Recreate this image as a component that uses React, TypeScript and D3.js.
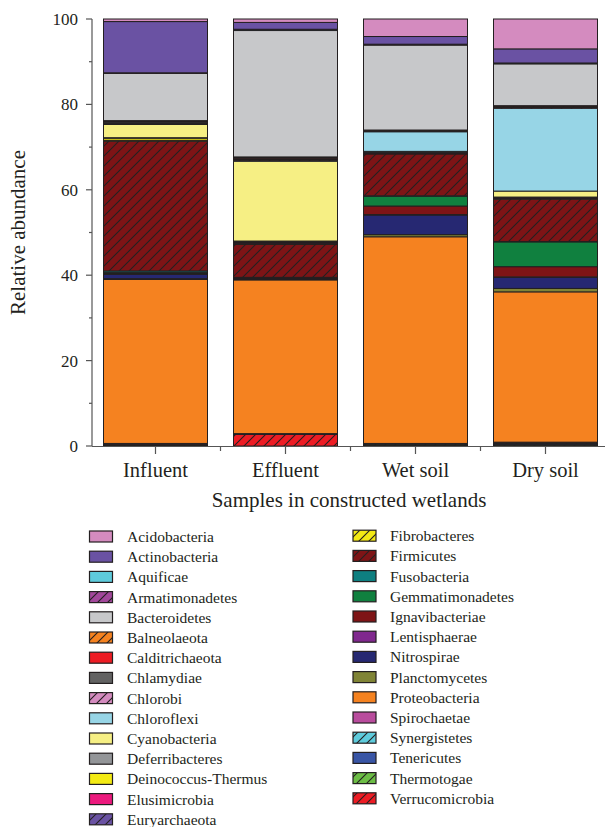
import React from "react";
import * as d3 from "d3";

const samples = ["Influent", "Effluent", "Wet soil", "Dry soil"];

// Phyla in legend order (top of stack = first)
const phyla = [
  "Acidobacteria", "Actinobacteria", "Aquificae", "Armatimonadetes", "Bacteroidetes",
  "Balneolaeota", "Calditrichaeota", "Chlamydiae", "Chlorobi", "Chloroflexi",
  "Cyanobacteria", "Deferribacteres", "Deinococcus-Thermus", "Elusimicrobia", "Euryarchaeota",
  "Fibrobacteres", "Firmicutes", "Fusobacteria", "Gemmatimonadetes", "Ignavibacteriae",
  "Lentisphaerae", "Nitrospirae", "Planctomycetes", "Proteobacteria", "Spirochaetae",
  "Synergistetes", "Tenericutes", "Thermotogae", "Verrucomicrobia",
];

const colors = [
  "#d48bbf", "#6a52a3", "#5ecbdc", "#a2479b", "#c7c8ca",
  "#f58220", "#ed1c24", "#626262", "#d48bbf", "#97d5e6",
  "#f6ef84", "#939598", "#f3ea14", "#ec1a7e", "#6a52a3",
  "#f3ea14", "#7e1416", "#0e7f80", "#10803f", "#7e1416",
  "#80288e", "#262872", "#808436", "#f58220", "#b94c9d",
  "#5ecbdc", "#3955a5", "#6cbd45", "#ed1c24",
];

const hatched = [
  false, false, false, true, false,
  true, false, false, true, false,
  false, false, false, false, true,
  true, true, false, false, false,
  false, false, false, false, false,
  true, false, true, true,
];

// values per phylum: [Influent, Effluent, Wet soil, Dry soil]
const Acidobacteria = [0.6, 0.8, 4.1, 7.0];
const Actinobacteria = [12.0, 1.6, 1.8, 3.3];
const Aquificae = [0.05, 0.2, 0.1, 0.1];
const Armatimonadetes = [0.05, 0.1, 0.1, 0.1];
const Bacteroidetes = [11.1, 29.6, 19.9, 9.8];
const Balneolaeota = [0.2, 0.2, 0.05, 0.1];
const Calditrichaeota = [0.1, 0.1, 0.05, 0.1];
const Chlamydiae = [0.3, 0.3, 0.2, 0.2];
const Chlorobi = [0.1, 0.2, 0.1, 0.2];
const Chloroflexi = [0.2, 0.2, 4.6, 19.4];
const Cyanobacteria = [3.1, 18.7, 0.1, 1.4];
const Deferribacteres = [0.1, 0.2, 0.1, 0.1];
const DeinococcusThermus = [0.5, 0.2, 0.1, 0.1];
const Elusimicrobia = [0.05, 0.1, 0.1, 0.1];
const Euryarchaeota = [0.05, 0.1, 0.1, 0.1];
const Fibrobacteres = [0.1, 0.2, 0.1, 0.1];
const Firmicutes = [30.4, 7.7, 9.8, 9.9];
const Fusobacteria = [0.4, 0.05, 0.1, 0.1];
const Gemmatimonadetes = [0.1, 0.05, 2.3, 5.8];
const Ignavibacteriae = [0.2, 0.05, 2.0, 2.4];
const Lentisphaerae = [0.1, 0.05, 0.1, 0.1];
const Nitrospirae = [1.0, 0.2, 4.6, 2.6];
const Planctomycetes = [0.2, 0.2, 0.5, 0.8];
const Proteobacteria = [38.4, 36.0, 48.4, 35.2];
const Spirochaetae = [0.15, 0.05, 0.1, 0.1];
const Synergistetes = [0.1, 0.05, 0.1, 0.2];
const Tenericutes = [0.1, 0.05, 0.1, 0.2];
const Thermotogae = [0.1, 0.05, 0.1, 0.2];
const Verrucomicrobia = [0.15, 2.7, 0.2, 0.2];

const values = [
  Acidobacteria, Actinobacteria, Aquificae, Armatimonadetes, Bacteroidetes,
  Balneolaeota, Calditrichaeota, Chlamydiae, Chlorobi, Chloroflexi,
  Cyanobacteria, Deferribacteres, DeinococcusThermus, Elusimicrobia, Euryarchaeota,
  Fibrobacteres, Firmicutes, Fusobacteria, Gemmatimonadetes, Ignavibacteriae,
  Lentisphaerae, Nitrospirae, Planctomycetes, Proteobacteria, Spirochaetae,
  Synergistetes, Tenericutes, Thermotogae, Verrucomicrobia,
];

const yTicks = [0, 20, 40, 60, 80, 100];
const yMinorTicks = [10, 30, 50, 70, 90];

const FONT = "'Liberation Serif', 'Times New Roman', serif";
const INK = "#231f20";

export default function App() {
  const W = 605, H = 827;
  const x = d3.scaleBand<string>().domain(samples).range([90.5, 610.5]).paddingInner(0.2).paddingOuter(0.1);
  const y = d3.scaleLinear().domain([0, 100]).range([446, 19]);

  const rows = samples.map((s, si) => {
    const obj: Record<string, number | string> = { sample: s };
    phyla.forEach((p, pi) => { obj[p] = values[pi][si]; });
    return obj;
  });
  const stackKeys = [...phyla].reverse();
  const series = d3.stack<Record<string, number | string>>().keys(stackKeys)(rows as any);

  const fillOf = (pi: number) => (hatched[pi] ? `url(#hatch${pi})` : colors[pi]);

  const legendLeft = phyla.slice(0, 15);
  const legendRight = phyla.slice(15);

  const xTickPositions = samples.map((s) => (x(s) as number) + x.bandwidth() / 2);
  const step = x.step();
  const xMinor = xTickPositions.slice(0, -1).map((c) => c + step / 2);

  return (
    <svg width={W} height={H} style={{ position: "absolute", left: 0, top: 0 }}>
      <defs>
        {phyla.map((p, pi) =>
          hatched[pi] ? (
            <pattern key={p} id={`hatch${pi}`} patternUnits="userSpaceOnUse" width={10} height={10}>
              <rect width={10} height={10} fill={colors[pi]} />
              <path d="M-1,11 L11,-1 M-6,6 L6,-6 M4,16 L16,4" stroke={INK} strokeWidth={1.1} />
            </pattern>
          ) : null
        )}
      </defs>

      {/* bars */}
      {series.map((ser) => {
        const pi = phyla.indexOf(ser.key);
        return (
          <g key={ser.key}>
            {ser.map((d, i) => (
              <rect
                key={i}
                x={x(samples[i]) as number}
                y={y(d[1])}
                width={x.bandwidth()}
                height={Math.max(0, y(d[0]) - y(d[1]))}
                fill={fillOf(pi)}
                stroke={INK}
                strokeWidth={1}
              />
            ))}
          </g>
        );
      })}

      {/* y axis */}
      <line x1={92} x2={92} y1={y(100)} y2={y(0)} stroke="#555" strokeWidth={1.2} />
      {yTicks.map((t) => (
        <g key={t}>
          <line x1={86} x2={92} y1={y(t)} y2={y(t)} stroke="#555" strokeWidth={1.2} />
          <text x={78} y={y(t)} dy="0.35em" textAnchor="end" fontFamily={FONT} fontSize={17} fill={INK}>
            {t}
          </text>
        </g>
      ))}
      {yMinorTicks.map((t) => (
        <line key={t} x1={89} x2={92} y1={y(t)} y2={y(t)} stroke="#555" strokeWidth={1.2} />
      ))}
      <text
        transform={`translate(25,${(y(0) + y(100)) / 2}) rotate(-90)`}
        textAnchor="middle"
        fontFamily={FONT}
        fontSize={21}
        fill={INK}
      >
        Relative abundance
      </text>

      {/* x axis */}
      <line x1={92} x2={W} y1={446.5} y2={446.5} stroke="#555" strokeWidth={1.2} />
      {xTickPositions.map((c, i) => (
        <g key={i}>
          <line x1={c} x2={c} y1={446.5} y2={454} stroke="#555" strokeWidth={1.2} />
          <text x={c} y={477} textAnchor="middle" fontFamily={FONT} fontSize={20.5} fill={INK}>
            {samples[i]}
          </text>
        </g>
      ))}
      {xMinor.map((c, i) => (
        <line key={i} x1={c} x2={c} y1={446.5} y2={451} stroke="#555" strokeWidth={1.2} />
      ))}
      <text x={349} y={507} textAnchor="middle" fontFamily={FONT} fontSize={21} fill={INK}>
        Samples in constructed wetlands
      </text>

      {/* legend */}
      {legendLeft.map((p, i) => {
        const pi = phyla.indexOf(p);
        const cy = 536.5 + i * 20.2;
        return (
          <g key={p}>
            <rect x={89.5} y={cy - 5.5} width={23} height={11} fill={fillOf(pi)} stroke={INK} strokeWidth={1.2} />
            <text x={127} y={cy} dy="0.35em" fontFamily={FONT} fontSize={15.5} fill={INK}>{p}</text>
          </g>
        );
      })}
      {legendRight.map((p, i) => {
        const pi = phyla.indexOf(p);
        const cy = 535.7 + i * 20.2;
        return (
          <g key={p}>
            <rect x={353} y={cy - 5.5} width={23} height={11} fill={fillOf(pi)} stroke={INK} strokeWidth={1.2} />
            <text x={390} y={cy} dy="0.35em" fontFamily={FONT} fontSize={15.5} fill={INK}>{p}</text>
          </g>
        );
      })}
    </svg>
  );
}
